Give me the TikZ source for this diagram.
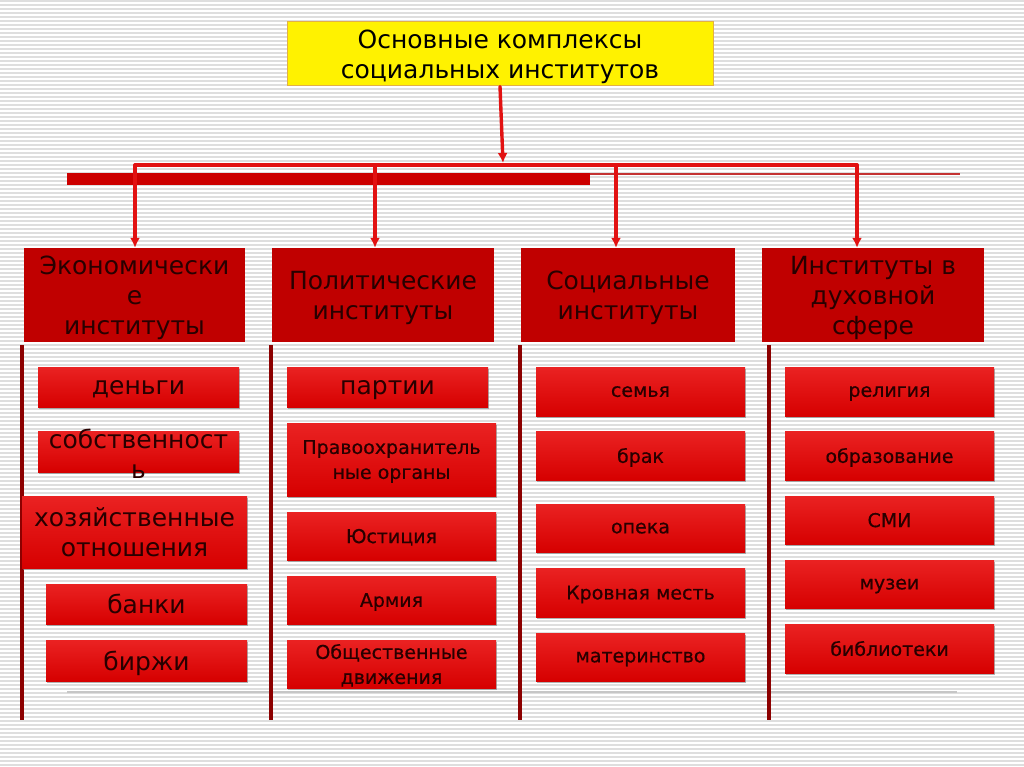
\documentclass[tikz,border=0pt]{standalone}
\usepackage{fontspec}
\setmainfont{DejaVu Sans}
\newfontfamily\itemfont{DejaVu Sans}[FakeBold=0.5]
\usetikzlibrary{arrows.meta,shadows}

\definecolor{hdrred}{RGB}{192,0,0}
\definecolor{itemred}{RGB}{214,0,0}
\definecolor{itemtop}{RGB}{234,34,34}
\definecolor{linkred}{RGB}{226,18,18}
\definecolor{barred}{RGB}{204,0,0}
\definecolor{thinred}{RGB}{196,50,50}
\definecolor{pillar}{RGB}{140,0,0}
\definecolor{txtdark}{RGB}{40,0,0}
\definecolor{stripe}{RGB}{222,222,222}
\definecolor{titlebd}{RGB}{226,176,70}

\begin{document}
\begin{tikzpicture}[
		x=1pt, y=-1pt,
		every node/.style={inner sep=0pt, text=txtdark, align=center, text depth=0pt},
		hdrbox/.style={rectangle, fill=hdrred, minimum height=94pt, font=\fontsize{25}{30}\selectfont},
		itembox/.style={rectangle, top color=itemtop, bottom color=itemred,
			drop shadow={shadow xshift=1pt, shadow yshift=-2pt, fill=gray, opacity=0.6}},
		bigtext/.style={font=\fontsize{25}{30}\selectfont},
		smalltext/.style={font=\itemfont\fontsize{19}{25}\selectfont},
		busline/.style={draw=linkred, line width=3.4pt, line cap=round},
		link/.style={busline, -{Latex[length=10pt,width=10pt]}}
	]
  \useasboundingbox (0,0) rectangle (1024,767);
  \fill[white] (0,0) rectangle (1024,767);
  \foreach \y in {1,5,...,767} \draw[stripe, line width=1.2pt] (0,\y) -- (1024,\y);

  \node (title) [rectangle, fill=yellow, draw=titlebd, line width=1pt, minimum width=426pt, minimum height=64pt, text=black, font=\fontsize{25}{30}\selectfont] at (500,54) {Основные комплексы\\социальных институтов};

  \node (econ_h) [hdrbox, minimum width=221pt] at (134.5,295) {Экономически\\е\\институты};
  \node (pol_h) [hdrbox, minimum width=222pt] at (383,295) {Политические\\институты};
  \node (soc_h) [hdrbox, minimum width=214pt] at (628,295) {Социальные\\институты};
  \node (spir_h) [hdrbox, minimum width=222pt] at (873,295) {Институты в\\духовной\\сфере};

  \fill[barred] (67,173) rectangle (590,185);
  \draw[thinred, line width=1.2pt] (590,174) -- (960,174);

  \coordinate (bus_in) at (503,163);
  \coordinate (d_1) at (135,165);
  \coordinate (d_2) at (375,165);
  \coordinate (d_3) at (616,165);
  \coordinate (d_4) at (857,165);
  \draw[link] (title.south) -- (bus_in);
  \draw[busline] (d_1) -- (d_4);
  \foreach \d/\h in {d_1/econ_h, d_2/pol_h, d_3/soc_h, d_4/spir_h}
    \draw[link] (\d) -- (\d |- \h.north);

  \draw[gray!45, line width=2pt] (67,692) -- (957,692);
  \foreach \x in {22,271,520,769} \draw[pillar, line width=3.5pt] (\x,345) -- (\x,720);

  \node (e_1) [itembox, bigtext, minimum width=201pt, minimum height=40pt] at (138.5,387) {деньги};
  \node (e_2) [itembox, minimum width=201pt, minimum height=41pt] at (138.5,451.5) {};
  \node (e_2_txt) [bigtext] at (138.5,453.5) {собственност\\ь};
  \node (e_3) [itembox, bigtext, minimum width=225pt, minimum height=72pt] at (134.5,532) {хозяйственные\\отношения};
  \node (e_4) [itembox, bigtext, minimum width=201pt, minimum height=40pt] at (146.5,604) {банки};
  \node (e_5) [itembox, bigtext, minimum width=201pt, minimum height=41pt] at (146.5,660.5) {биржи};

  \node (p_1) [itembox, bigtext, minimum width=201pt, minimum height=40pt] at (387.5,387) {партии};
  \node (p_2) [itembox, smalltext, minimum width=209pt, minimum height=73pt] at (391.5,459.5) {Правоохранитель\\ные органы};
  \node (p_3) [itembox, smalltext, minimum width=209pt, minimum height=48pt] at (391.5,536) {Юстиция};
  \node (p_4) [itembox, smalltext, minimum width=209pt, minimum height=48pt] at (391.5,600) {Армия};
  \node (p_5) [itembox, smalltext, minimum width=209pt, minimum height=48pt] at (391.5,664) {Общественные\\движения};

  \node (s_1) [itembox, smalltext, minimum width=209pt, minimum height=49pt] at (640.5,391.5) {семья};
  \node (s_2) [itembox, smalltext, minimum width=209pt, minimum height=49pt] at (640.5,455.5) {брак};
  \node (s_3) [itembox, smalltext, minimum width=209pt, minimum height=48pt] at (640.5,528) {опека};
  \node (s_4) [itembox, smalltext, minimum width=209pt, minimum height=49pt] at (640.5,592.5) {Кровная месть};
  \node (s_5) [itembox, smalltext, minimum width=209pt, minimum height=48pt] at (640.5,657) {материнство};

  \node (r_1) [itembox, smalltext, minimum width=209pt, minimum height=49pt] at (889.5,391.5) {религия};
  \node (r_2) [itembox, smalltext, minimum width=209pt, minimum height=49pt] at (889.5,455.5) {образование};
  \node (r_3) [itembox, smalltext, minimum width=209pt, minimum height=48pt] at (889.5,520) {СМИ};
  \node (r_4) [itembox, smalltext, minimum width=209pt, minimum height=48pt] at (889.5,584) {музеи};
  \node (r_5) [itembox, smalltext, minimum width=209pt, minimum height=49pt] at (889.5,648.5) {библиотеки};
\end{tikzpicture}
\end{document}
